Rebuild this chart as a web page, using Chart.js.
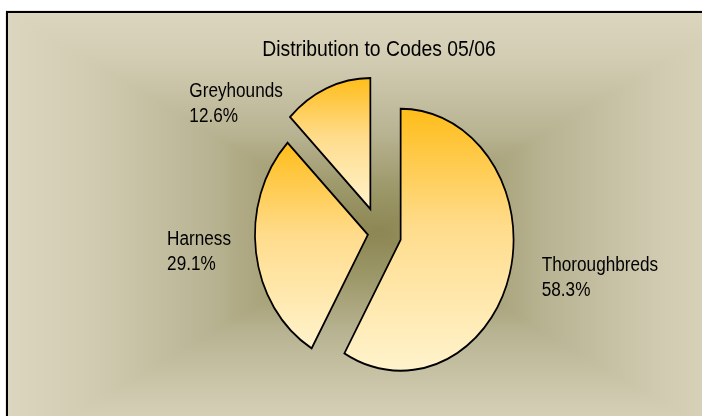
<!DOCTYPE html>
<html><head><meta charset="utf-8">
<script src="https://cdn.jsdelivr.net/npm/chart.js@4/dist/chart.umd.min.js"></script>
<style>html,body{margin:0;padding:0;background:#fff;overflow:hidden}canvas{display:block}</style>
</head><body>
<canvas id="c" width="702" height="416"></canvas>
<script>
// ---- data ----
const chartTitle = 'Distribution to Codes 05/06';
const categories = ['Thoroughbreds', 'Harness', 'Greyhounds'];
const shares = [58.3, 29.1, 12.6];

// ---- styling / layout constants ----
const FONT_FAMILY = '"Liberation Sans", Arial, sans-serif';
const TEXT_STRETCH = 0.88;        // narrow look of the original face
const TITLE_FONT_PX = 22;
const LABEL_FONT_PX = 19.5;
const TITLE_BASELINE = 56;
const X_SCALE = 0.862;            // pie is drawn slightly elliptical
const EXPLODE = [26, 13, 26];     // explosion distance of each slice (px)
const LABEL_PLACE = [
  {side: 'right', gap: 32, dy: 3},
  {side: 'left',  gap: 25, dy: -2},
  {side: 'left',  gap: 44, dy: 14.5}
];
const FRAME = {x0: 6, y0: 11, x1: 750, y1: 455};

function drawNarrowText(ctx, s, x, y) {
  ctx.save();
  ctx.translate(x, y);
  ctx.scale(TEXT_STRETCH, 1);
  ctx.fillText(s, 0, 0);
  ctx.restore();
}

const bgPlugin = {
  id: 'bgPlugin',
  beforeDraw(chart) {
    const ctx = chart.ctx;
    ctx.save();
    ctx.fillStyle = '#fff';
    ctx.fillRect(0, 0, chart.width, chart.height);
    const {x0, y0, x1, y1} = FRAME;
    const cx = (x0 + x1) / 2, cy = (y0 + y1) / 2;
    const tris = [
      [[x0, y0], [x1, y0], [cx, y0]],
      [[x1, y0], [x1, y1], [x1, cy]],
      [[x1, y1], [x0, y1], [cx, y1]],
      [[x0, y1], [x0, y0], [x0, cy]]
    ];
    tris.forEach(([p, q, e]) => {
      const g = ctx.createLinearGradient(cx, cy, e[0], e[1]);
      g.addColorStop(0, '#8C8654');
      g.addColorStop(0.2, '#9D9869');
      g.addColorStop(0.45, '#B8B392');
      g.addColorStop(0.75, '#D0CBB0');
      g.addColorStop(1, '#DCD6C0');
      ctx.beginPath();
      ctx.moveTo(cx, cy); ctx.lineTo(p[0], p[1]); ctx.lineTo(q[0], q[1]); ctx.closePath();
      ctx.fillStyle = g; ctx.strokeStyle = g; ctx.lineWidth = 1;
      ctx.fill(); ctx.stroke();
    });
    ctx.fillStyle = '#000';
    ctx.fillRect(x0, y0, x1 - x0, 2);
    ctx.fillRect(x0, y0, 2, y1 - y0);
    // title
    const area = chart.chartArea;
    ctx.font = TITLE_FONT_PX + 'px ' + FONT_FAMILY;
    ctx.textBaseline = 'alphabetic';
    const tw = ctx.measureText(chartTitle).width * TEXT_STRETCH;
    drawNarrowText(ctx, chartTitle, (area.left + area.right) / 2 - tw / 2, TITLE_BASELINE);
    ctx.restore();
  }
};

const pieShape = {
  id: 'pieShape',
  beforeDatasetDraw(chart, args) {
    const ctx = chart.ctx;
    const meta = args.meta;
    const cx = meta.data[0].x;
    ctx.save();
    ctx.translate(cx, 0); ctx.scale(X_SCALE, 1); ctx.translate(-cx, 0);
    meta.data.forEach((arc, i) => {
      const r = arc.outerRadius, y0 = arc.y;
      const a0 = arc.startAngle, a1 = arc.endAngle;
      let top = Math.min(0, Math.sin(a0), Math.sin(a1));
      let bot = Math.max(0, Math.sin(a0), Math.sin(a1));
      for (let k = -3; k <= 3; k++) {
        const a = Math.PI / 2 + k * Math.PI;
        if (a > a0 && a < a1) { if (Math.sin(a) > 0) bot = 1; else top = -1; }
      }
      const g = ctx.createLinearGradient(0, y0 + top * r, 0, y0 + bot * r);
      g.addColorStop(0, '#FFBD1A');
      g.addColorStop(0.45, '#FFDC8C');
      g.addColorStop(1, '#FFF3CC');
      arc.options = Object.assign({}, arc.options, {backgroundColor: g});
      const h = (a0 + a1) / 2;
      ctx.save();
      ctx.translate(Math.cos(h) * EXPLODE[i], Math.sin(h) * EXPLODE[i]);
      arc.draw(ctx, chart.chartArea);
      ctx.restore();
    });
    ctx.restore();

    // labels
    ctx.save();
    ctx.font = LABEL_FONT_PX + 'px ' + FONT_FAMILY;
    ctx.fillStyle = '#000';
    ctx.textBaseline = 'alphabetic';
    ctx.textAlign = 'left';
    meta.data.forEach((arc, i) => {
      const h = (arc.startAngle + arc.endAngle) / 2;
      const t = EXPLODE[i];
      const vx = arc.x + X_SCALE * Math.cos(h) * t, vy = arc.y + Math.sin(h) * t;
      const ax = vx + X_SCALE * Math.cos(h) * arc.outerRadius;
      const ay = vy + Math.sin(h) * arc.outerRadius;
      const lines = [categories[i], shares[i].toFixed(1) + '%'];
      const w = Math.max(...lines.map(s => ctx.measureText(s).width)) * TEXT_STRETCH;
      const p = LABEL_PLACE[i];
      const left = p.side === 'right' ? ax + p.gap : ax - p.gap - w;
      const cy = ay + p.dy;
      drawNarrowText(ctx, lines[0], left, cy - 5.25);
      drawNarrowText(ctx, lines[1], left, cy + 19.25);
    });
    ctx.restore();
    return false;
  }
};

new Chart(document.getElementById('c'), {
  type: 'pie',
  data: {
    labels: categories,
    datasets: [{
      data: shares,
      radius: 131,
      borderColor: '#000',
      borderWidth: 2,
      borderJoinStyle: 'miter',
      backgroundColor: '#FFD070'
    }]
  },
  options: {
    responsive: false,
    animation: false,
    devicePixelRatio: 1,
    events: [],
    layout: {padding: {left: 100, right: 44, top: 60, bottom: 10}},
    plugins: {
      legend: {display: false},
      tooltip: {enabled: false},
      title: {display: false}
    }
  },
  plugins: [bgPlugin, pieShape]
});
</script>
</body></html>
